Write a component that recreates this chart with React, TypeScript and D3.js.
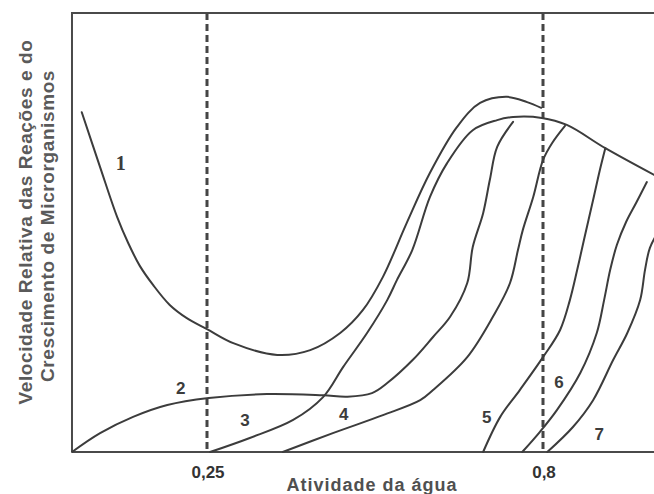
import { useEffect, useRef } from 'react';
import * as d3 from 'd3';

const width = 654;
const height = 494;

// water activity (x) vs relative rate (y, 0-100)
const curve1: [number, number][] = [
    [0.045, 77.4], [0.075, 64.9], [0.103, 53.5], [0.121, 47.6], [0.14, 42.4], [0.162, 38.0],
    [0.189, 33.5], [0.217, 30.5], [0.25, 28.0], [0.293, 24.8], [0.365, 22.1], [0.419, 23.2],
    [0.468, 27.1], [0.505, 32.3], [0.538, 39.9], [0.577, 52.2], [0.615, 63.6], [0.659, 74.0],
    [0.697, 79.5], [0.741, 80.9], [0.774, 79.7], [0.797, 78.4]
];
const curve2: [number, number][] = [
    [0.029, 0], [0.075, 4.3], [0.129, 8.0], [0.185, 10.7], [0.253, 12.3], [0.348, 13.2],
    [0.44, 12.9], [0.48, 12.6], [0.52, 13.4], [0.545, 15.7], [0.587, 21.0], [0.62, 26.2],
    [0.648, 30.8], [0.676, 38.5], [0.685, 46.7], [0.702, 54.4], [0.713, 62.0], [0.725, 69.5],
    [0.751, 75.2]
];
const curve3: [number, number][] = [
    [0.255, 0], [0.32, 3.2], [0.391, 7.3], [0.44, 12.5], [0.473, 19.4], [0.512, 27.1],
    [0.545, 34.6], [0.561, 39.2], [0.586, 46.0], [0.615, 58.1], [0.643, 65.8], [0.685, 73.3],
    [0.725, 75.6], [0.751, 76.3], [0.798, 76.1], [0.839, 74.5], [0.902, 69.2], [0.982, 63.1]
];
const curve4: [number, number][] = [
    [0.374, 0], [0.456, 4.3], [0.538, 8.4], [0.599, 11.8], [0.62, 14.1], [0.676, 21.6],
    [0.718, 30.8], [0.746, 38.5], [0.759, 46.0], [0.767, 50.6], [0.784, 58.1], [0.8, 66.5],
    [0.815, 70.4], [0.836, 74.3]
];
const curve5: [number, number][] = [
    [0.702, 0], [0.73, 8.0], [0.762, 14.1], [0.8, 21.6], [0.828, 27.8], [0.844, 34.6],
    [0.856, 41.5], [0.867, 48.3], [0.882, 57.4], [0.893, 64.2], [0.902, 69.2]
];
const curve6: [number, number][] = [
    [0.766, 0], [0.795, 4.6], [0.823, 9.6], [0.861, 18.0], [0.888, 27.1], [0.9, 34.6],
    [0.91, 41.5], [0.921, 47.2], [0.936, 52.4], [0.953, 56.9], [0.97, 61.5]
];
const curve7: [number, number][] = [
    [0.807, 0], [0.849, 5.7], [0.882, 11.8], [0.915, 21.0], [0.938, 27.1], [0.959, 34.6],
    [0.967, 41.5], [0.975, 46.5], [0.99, 50.5]
];

const curves = [curve1, curve2, curve3, curve4, curve5, curve6, curve7];

const labelNames = ['1', '2', '3', '4', '5', '6', '7'];
const labelPos: [number, number][] = [
    [0.109, 64.2], [0.207, 13.2], [0.312, 5.9], [0.474, 7.3], [0.708, 6.6], [0.826, 14.6], [0.892, 2.7]
];

const xTicks = [0.25, 0.8];
const xTickLabels = ['0,25', '0,8'];
const xTitle = 'Atividade da água';
const yTitle = ['Velocidade Relativa das Reações e do', 'Crescimento de Microrganismos'];

export default function App() {
    const ref = useRef<SVGSVGElement>(null);

    useEffect(() => {
        const svg = d3.select(ref.current);
        svg.selectAll('*').remove();

        const xScale = d3.scaleLinear().domain([0.25, 0.8]).range([207, 543]);
        const yScale = d3.scaleLinear().domain([0, 100]).range([452, 13]);
        const [x0, x1] = [0.029, 0.99];

        const ink = '#3c3c3c';
        const sans = 'Liberation Sans, Arial, sans-serif';

        svg.append('rect').attr('width', width).attr('height', height).attr('fill', '#ffffff');

        // frame: left, top, bottom
        const frame = svg.append('g').attr('stroke', '#4a4a4a').attr('stroke-width', 2).attr('fill', 'none');
        frame.append('line').attr('x1', xScale(x0)).attr('x2', xScale(x0)).attr('y1', yScale(100) - 1).attr('y2', yScale(0));
        frame.append('line').attr('x1', xScale(x0)).attr('x2', xScale(x1)).attr('y1', yScale(100)).attr('y2', yScale(100));
        frame.append('line').attr('x1', xScale(x0)).attr('x2', xScale(x1)).attr('y1', yScale(0)).attr('y2', yScale(0));

        // dashed reference lines
        svg.append('g')
            .selectAll('line')
            .data(xTicks)
            .join('line')
            .attr('x1', (d) => xScale(d))
            .attr('x2', (d) => xScale(d))
            .attr('y1', yScale(100))
            .attr('y2', yScale(0))
            .attr('stroke', '#454545')
            .attr('stroke-width', 3)
            .attr('stroke-dasharray', '7,4');

        const line = d3
            .line<[number, number]>()
            .curve(d3.curveCatmullRom.alpha(0.5))
            .x((d) => xScale(d[0]))
            .y((d) => yScale(d[1]));

        svg.append('g')
            .selectAll('path')
            .data(curves)
            .join('path')
            .attr('fill', 'none')
            .attr('stroke', ink)
            .attr('stroke-width', 2)
            .attr('stroke-linecap', 'round')
            .attr('d', line);

        // curve numbers
        svg.append('g')
            .selectAll('text')
            .data(labelNames)
            .join('text')
            .attr('x', (_d, i) => xScale(labelPos[i][0]))
            .attr('y', (_d, i) => yScale(labelPos[i][1]))
            .attr('text-anchor', 'middle')
            .attr('font-family', (d) => (d === '1' ? 'Liberation Serif, serif' : sans))
            .attr('font-weight', 'bold')
            .attr('font-size', (d) => (d === '1' ? 20 : 17))
            .attr('fill', ink)
            .text((d) => d);

        // x tick labels
        svg.append('g')
            .selectAll('text')
            .data(xTicks)
            .join('text')
            .attr('x', (d) => xScale(d) + 1)
            .attr('y', 478)
            .attr('text-anchor', 'middle')
            .attr('font-family', sans)
            .attr('font-weight', 'bold')
            .attr('font-size', 17)
            .attr('fill', '#333')
            .text((_d, i) => xTickLabels[i]);

        svg.append('text')
            .attr('x', 372)
            .attr('y', 491)
            .attr('text-anchor', 'middle')
            .attr('font-family', sans)
            .attr('font-weight', 'bold')
            .attr('font-size', 18)
            .attr('letter-spacing', 1)
            .attr('fill', '#505050')
            .text(xTitle);

        svg.append('g')
            .selectAll('text')
            .data(yTitle)
            .join('text')
            .attr('transform', (_d, i) => `translate(${i === 0 ? 32 : 54}, ${i === 0 ? 222 : 226}) rotate(-90)`)
            .attr('text-anchor', 'middle')
            .attr('font-family', sans)
            .attr('font-weight', 'bold')
            .attr('font-size', 19)
            .attr('letter-spacing', 0.6)
            .attr('fill', '#5a5a5a')
            .text((d) => d);
    }, []);

    return (
        <svg
            ref={ref}
            width={width}
            height={height}
            style={{ position: 'absolute', left: 0, top: 0, display: 'block' }}
        />
    );
}
